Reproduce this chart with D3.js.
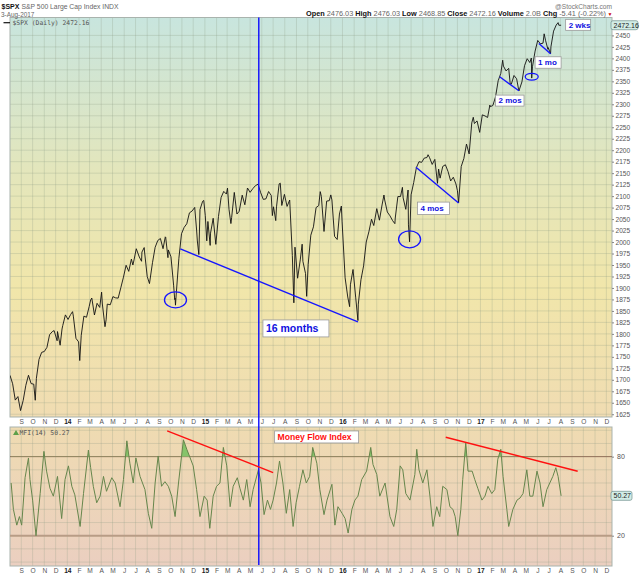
<!DOCTYPE html>
<html>
<head>
<meta charset="utf-8">
<script src="https://d3js.org/d3.v7.min.js"></script>
<style>
  body { margin: 0; background: #fff; }
  svg { font-family: "Liberation Sans", Arial, sans-serif; }
  .axis text { fill: #555; font-size: 6.6px; }
  .axis .yr { fill: #222; font-weight: bold; }
  .axis line { stroke: #888; }
  .grid line { stroke: #8c9c84; stroke-opacity: 0.33; stroke-width: 0.8px; }
  .note rect { fill: #fff; stroke: #9a9a9a; stroke-width: 0.8px; }
  .note text { fill: #1010e0; font-weight: bold; }
</style>
</head>
<body>
<svg id="chart" width="640" height="576"></svg>
<script>
// ---- data ----
var spxDaily = [
  ["2013-08-02",1709.67],["2013-08-09",1691.42],["2013-08-16",1655.83],["2013-08-23",1663.50],["2013-08-30",1632.97],
  ["2013-09-06",1655.17],["2013-09-13",1687.99],["2013-09-20",1709.91],["2013-09-27",1691.75],["2013-10-04",1690.50],
  ["2013-10-08",1655.45],["2013-10-11",1703.20],["2013-10-18",1744.50],["2013-10-25",1759.77],["2013-11-01",1761.64],
  ["2013-11-08",1770.61],["2013-11-15",1798.18],["2013-11-22",1804.76],["2013-11-27",1807.23],["2013-12-05",1785.03],
  ["2013-12-06",1805.09],["2013-12-13",1775.32],["2013-12-18",1810.65],["2013-12-20",1818.32],["2013-12-27",1841.40],
  ["2014-01-03",1831.37],["2014-01-10",1842.37],["2014-01-15",1848.38],["2014-01-17",1838.70],["2014-01-24",1790.29],
  ["2014-01-31",1782.59],["2014-02-03",1741.89],["2014-02-07",1797.02],["2014-02-14",1838.63],["2014-02-21",1836.25],
  ["2014-02-28",1859.45],["2014-03-04",1873.91],["2014-03-07",1878.04],["2014-03-14",1841.13],["2014-03-21",1866.52],
  ["2014-03-28",1857.62],["2014-04-02",1890.90],["2014-04-04",1865.09],["2014-04-11",1815.69],["2014-04-14",1830.61],
  ["2014-04-17",1864.85],["2014-04-25",1863.40],["2014-05-02",1881.14],["2014-05-09",1878.48],["2014-05-16",1877.86],
  ["2014-05-23",1900.53],["2014-05-30",1923.57],["2014-06-06",1949.44],["2014-06-13",1936.16],["2014-06-20",1962.87],
  ["2014-06-24",1949.98],["2014-06-27",1960.96],["2014-07-03",1985.44],["2014-07-11",1967.57],["2014-07-17",1958.12],
  ["2014-07-18",1978.22],["2014-07-24",1987.98],["2014-07-25",1978.34],["2014-08-01",1925.15],["2014-08-07",1909.57],
  ["2014-08-15",1955.06],["2014-08-22",1988.40],["2014-08-29",2003.37],["2014-09-05",2007.71],["2014-09-12",1985.54],
  ["2014-09-18",2011.36],["2014-09-19",2010.40],["2014-09-25",1965.99],["2014-09-26",1982.85],["2014-10-03",1967.90],
  ["2014-10-10",1906.13],["2014-10-13",1874.74],["2014-10-14",1877.70],["2014-10-15",1862.49],["2014-10-17",1886.76],
  ["2014-10-24",1964.58],["2014-10-31",2018.05],["2014-11-07",2031.92],["2014-11-14",2039.82],["2014-11-21",2063.50],
  ["2014-11-28",2067.56],["2014-12-05",2075.37],["2014-12-10",2026.14],["2014-12-12",2002.33],["2014-12-16",1972.74],
  ["2014-12-19",2070.65],["2014-12-26",2088.77],["2014-12-29",2090.57],["2015-01-02",2058.20],["2015-01-06",2002.61],
  ["2015-01-09",2044.81],["2015-01-15",1992.67],["2015-01-16",2019.42],["2015-01-23",2051.82],["2015-01-30",1994.99],
  ["2015-02-06",2055.47],["2015-02-13",2096.99],["2015-02-20",2110.30],["2015-02-27",2104.50],["2015-03-02",2117.39],
  ["2015-03-06",2071.26],["2015-03-11",2040.24],["2015-03-13",2053.40],["2015-03-20",2108.10],["2015-03-27",2061.02],
  ["2015-04-02",2066.96],["2015-04-10",2102.06],["2015-04-17",2081.18],["2015-04-24",2117.69],["2015-05-01",2108.29],
  ["2015-05-08",2116.10],["2015-05-15",2122.73],["2015-05-22",2126.06],["2015-05-29",2107.39],["2015-06-05",2092.83],
  ["2015-06-12",2094.11],["2015-06-19",2109.99],["2015-06-26",2101.49],["2015-06-29",2057.64],["2015-07-02",2076.78],
  ["2015-07-08",2046.68],["2015-07-10",2076.62],["2015-07-17",2126.64],["2015-07-20",2128.28],["2015-07-24",2079.65],
  ["2015-07-31",2103.84],["2015-08-07",2077.57],["2015-08-14",2091.54],["2015-08-21",1970.89],["2015-08-24",1893.21],
  ["2015-08-25",1867.61],["2015-08-28",1988.87],["2015-09-04",1921.22],["2015-09-11",1961.05],["2015-09-16",1995.31],
  ["2015-09-18",1958.03],["2015-09-25",1931.34],["2015-09-28",1881.77],["2015-10-02",1951.36],["2015-10-09",2014.89],
  ["2015-10-16",2033.11],["2015-10-23",2075.15],["2015-10-30",2079.36],["2015-11-03",2109.79],["2015-11-06",2099.20],
  ["2015-11-13",2023.04],["2015-11-20",2089.17],["2015-11-27",2090.11],["2015-12-01",2102.63],["2015-12-04",2091.69],
  ["2015-12-11",2012.37],["2015-12-18",2005.55],["2015-12-24",2060.99],["2015-12-29",2078.36],["2015-12-31",2043.94],
  ["2016-01-08",1922.03],["2016-01-15",1880.33],["2016-01-20",1859.33],["2016-01-22",1906.90],["2016-01-29",1940.24],
  ["2016-02-05",1880.05],["2016-02-11",1829.08],["2016-02-12",1864.78],["2016-02-19",1917.78],["2016-02-26",1948.05],
  ["2016-03-04",1999.99],["2016-03-11",2022.19],["2016-03-18",2049.58],["2016-03-24",2035.94],["2016-04-01",2072.78],
  ["2016-04-08",2047.60],["2016-04-15",2080.73],["2016-04-20",2102.40],["2016-04-22",2091.58],["2016-04-29",2065.30],
  ["2016-05-06",2057.14],["2016-05-13",2046.61],["2016-05-19",2040.04],["2016-05-20",2052.32],["2016-05-27",2099.06],
  ["2016-06-03",2099.13],["2016-06-08",2119.12],["2016-06-10",2096.07],["2016-06-17",2071.22],["2016-06-23",2113.32],
  ["2016-06-24",2037.41],["2016-06-27",2000.54],["2016-07-01",2102.95],["2016-07-08",2129.90],["2016-07-15",2161.74],
  ["2016-07-22",2175.03],["2016-07-29",2173.60],["2016-08-05",2182.87],["2016-08-12",2184.05],["2016-08-15",2190.15],
  ["2016-08-19",2183.87],["2016-08-26",2169.04],["2016-09-02",2179.98],["2016-09-09",2127.81],["2016-09-12",2159.04],
  ["2016-09-16",2139.16],["2016-09-23",2164.69],["2016-09-30",2168.27],["2016-10-07",2153.74],["2016-10-14",2132.98],
  ["2016-10-21",2141.16],["2016-10-28",2126.41],["2016-11-01",2111.72],["2016-11-04",2085.18],["2016-11-11",2164.45],
  ["2016-11-18",2181.90],["2016-11-25",2213.35],["2016-12-02",2191.95],["2016-12-09",2259.53],["2016-12-13",2271.72],
  ["2016-12-16",2258.07],["2016-12-23",2263.79],["2016-12-30",2238.83],["2017-01-06",2276.98],["2017-01-13",2274.64],
  ["2017-01-20",2271.31],["2017-01-26",2298.37],["2017-01-27",2294.69],["2017-02-03",2297.42],["2017-02-10",2316.10],
  ["2017-02-17",2351.16],["2017-02-24",2367.34],["2017-03-01",2395.96],["2017-03-03",2383.12],["2017-03-10",2372.60],
  ["2017-03-17",2378.25],["2017-03-21",2344.02],["2017-03-24",2343.98],["2017-03-31",2362.72],["2017-04-07",2355.54],
  ["2017-04-13",2328.95],["2017-04-21",2348.69],["2017-04-28",2384.20],["2017-05-05",2399.29],["2017-05-12",2390.90],
  ["2017-05-16",2400.67],["2017-05-17",2357.03],["2017-05-19",2381.73],["2017-05-26",2415.82],["2017-06-02",2439.07],
  ["2017-06-09",2431.77],["2017-06-16",2433.15],["2017-06-19",2453.46],["2017-06-23",2438.30],["2017-06-29",2419.70],
  ["2017-06-30",2423.41],["2017-07-06",2409.75],["2017-07-07",2425.18],["2017-07-14",2459.27],["2017-07-21",2472.54],
  ["2017-07-26",2477.83],["2017-07-28",2472.10],["2017-08-03",2472.16]
];

var mfi14 = [
  ["2013-08-05",60],["2013-08-11",40],["2013-08-20",28],["2013-08-27",34.5],["2013-09-02",28],["2013-09-11",64],
  ["2013-09-20",79],["2013-09-24",62.6],["2013-10-01",47],["2013-10-10",20],["2013-10-21",52],["2013-10-31",84],
  ["2013-11-07",69],["2013-11-16",56],["2013-11-25",50],["2013-12-06",65],["2013-12-17",33],["2013-12-26",62.6],
  ["2014-01-04",73],["2014-01-13",57.5],["2014-01-21",51],["2014-02-04",27],["2014-02-13",52],["2014-02-26",85],
  ["2014-03-04",71.6],["2014-03-11",57.5],["2014-03-20",45],["2014-03-29",50],["2014-04-07",65],["2014-04-15",53.7],
  ["2014-04-29",64],["2014-05-08",60],["2014-05-21",42],["2014-05-30",62.6],["2014-06-08",92],["2014-06-16",75],
  ["2014-06-25",60],["2014-07-02",79],["2014-07-13",65],["2014-07-26",55],["2014-08-04",37],["2014-08-13",25.6],
  ["2014-08-22",60],["2014-08-30",80.5],["2014-09-08",57.5],["2014-09-17",61],["2014-09-26",57.5],["2014-10-05",50],
  ["2014-10-14",34.5],["2014-10-23",60],["2014-11-05",92.8],["2014-11-14",85.6],["2014-11-23",79],["2014-12-01",73],
  ["2014-12-10",55],["2014-12-19",34.5],["2014-12-30",50],["2015-01-07",47],["2015-01-14",25.6],["2015-01-23",50],
  ["2015-02-01",57.5],["2015-02-10",60],["2015-02-19",87],["2015-02-28",73],["2015-03-09",42],["2015-03-17",57.5],
  ["2015-03-28",64],["2015-04-04",56],["2015-04-13",47],["2015-04-22",62.6],["2015-05-01",42],["2015-05-09",55],
  ["2015-05-23",70],["2015-05-30",60],["2015-06-07",36],["2015-06-16",47],["2015-06-24",40],["2015-07-01",47],
  ["2015-07-10",60],["2015-07-18",76.7],["2015-07-27",60],["2015-08-05",37],["2015-08-14",55],["2015-08-23",27],
  ["2015-08-31",45],["2015-09-09",57.5],["2015-09-18",70],["2015-09-27",60],["2015-10-06",65],["2015-10-14",87],
  ["2015-10-25",75],["2015-11-02",55],["2015-11-13",36],["2015-11-21",47],["2015-12-04",59],["2015-12-12",28],
  ["2015-12-20",42],["2015-12-31",37],["2016-01-08",33],["2016-01-16",22],["2016-01-26",40],["2016-02-03",47],
  ["2016-02-11",50],["2016-02-21",62.6],["2016-03-05",69],["2016-03-16",87],["2016-03-22",74],["2016-04-01",66.5],
  ["2016-04-09",50],["2016-04-23",60],["2016-05-06",34.5],["2016-05-16",27],["2016-05-24",40],["2016-06-02",73],
  ["2016-06-09",70],["2016-06-17",52],["2016-06-28",47],["2016-07-11",66.5],["2016-07-16",85.6],["2016-07-22",70],
  ["2016-08-01",60],["2016-08-12",70],["2016-08-20",50],["2016-08-28",27],["2016-09-07",42],["2016-09-15",34.5],
  ["2016-09-23",57.5],["2016-10-04",55],["2016-10-12",42],["2016-10-20",40],["2016-10-26",34.5],["2016-11-02",20],
  ["2016-11-10",40],["2016-11-15",62.6],["2016-11-23",90.7],["2016-11-29",69],["2016-12-10",69],["2016-12-17",62.6],
  ["2016-12-25",56],["2017-01-05",47],["2017-01-13",50],["2017-01-21",57.5],["2017-01-31",52],["2017-02-08",55],
  ["2017-02-16",78],["2017-02-24",85.6],["2017-03-02",65],["2017-03-12",40],["2017-03-17",27],["2017-03-28",40],
  ["2017-04-08",47],["2017-04-16",48.6],["2017-04-24",52],["2017-05-04",70],["2017-05-12",50],["2017-05-20",50],
  ["2017-05-31",69],["2017-06-08",60],["2017-06-16",42],["2017-06-26",55],["2017-07-04",60],["2017-07-12",65],
  ["2017-07-20",71.6],["2017-07-26",65],["2017-08-03",50.27]
];

var priceTicks = [1625,1650,1675,1700,1725,1750,1775,1800,1825,1850,1875,1900,1925,1950,1975,2000,2025,2050,
  2075,2100,2125,2150,2175,2200,2225,2250,2275,2300,2325,2350,2375,2400,2425,2450];
var mfiTicks = [20, 80];
var mfiGrid = [0, 10, 30, 40, 50, 60, 70, 90, 100];
var monthLabels = ["S","O","N","D","14","F","M","A","M","J","J","A","S","O","N","D",
  "15","F","M","A","M","J","J","A","S","O","N","D","16","F","M","A","M","J","J","A","S","O","N","D",
  "17","F","M","A","M","J","J","A","S","O","N","D"];

// annotations (in date / price units)
var blueTrends = [
  [["2014-10-28",1985],["2016-02-11",1826]],
  [["2016-07-14",2163],["2016-11-04",2085]],
  [["2017-02-21",2360],["2017-04-13",2329.5]],
  [["2017-06-05",2432.6],["2017-07-06",2410]]
];
var blueCircles = [["2014-10-15",1874],["2016-06-27",2006],["2017-05-17",2360]];
var noteTexts = ["16 months","4 mos","2 mos","1 mo","2 wks"];
var noteAnchors = [["2015-06-04",1830.4],["2016-07-18",2087],["2017-02-10",2320],["2017-05-26",2403.5],["2017-08-15",2485]];
var redTrends = [
  [["2014-09-23",99.5],["2015-07-01",67.9]],
  [["2016-10-01",94.7],["2017-09-16",68.9]]
];
var mfiNote = ["Money Flow Index", "2015-07-05", 99.5];
var markerDate = "2015-05-24";
var lastClose = 2472.16, lastMfi = 50.27;

// ---- layout ----
var parseDate = d3.timeParse("%Y-%m-%d");
var left = 10, right = 612;
var mainTop = 17.5, mainBottom = 417, mfiTop = 427, mfiBottom = 566;

var x = d3.scaleTime()
  .domain([new Date(2013, 7, 2), new Date(2017, 11, 16)])
  .range([left, right]);
var y = d3.scaleLinear().domain([1619, 2489]).range([mainBottom, mainTop]);
var yM = d3.scaleLinear().domain([-3, 102.5]).range([mfiBottom, mfiTop]);

var monthDates = d3.timeMonth.range(new Date(2013, 8, 1), new Date(2018, 0, 1));

var svg = d3.select("#chart");
var defs = svg.append("defs");

function gradient(id, stops) {
  var lg = defs.append("linearGradient").attr("id", id)
    .attr("x1", 0).attr("y1", 0).attr("x2", 0).attr("y2", 1);
  stops.forEach(function(s) {
    lg.append("stop").attr("offset", s[0]).attr("stop-color", s[1]);
  });
}
gradient("bgMain", [[0, "#c8e5de"], [0.38, "#e3e6bc"], [0.68, "#f1e6aa"], [1, "#f0dcb2"]]);
gradient("bgMfi", [[0, "#efdbb1"], [1, "#ebcfc0"]]);

defs.append("clipPath").attr("id", "clipMain").append("rect")
  .attr("x", left).attr("y", mainTop).attr("width", right - left).attr("height", mainBottom - mainTop);
defs.append("clipPath").attr("id", "clipOver").append("rect")
  .attr("x", left).attr("y", mfiTop).attr("width", right - left).attr("height", yM(80) - mfiTop);

// panels
svg.append("rect").attr("x", left).attr("y", mainTop)
  .attr("width", right - left).attr("height", mainBottom - mainTop)
  .attr("fill", "url(#bgMain)");
svg.append("rect").attr("x", left).attr("y", mfiTop)
  .attr("width", right - left).attr("height", mfiBottom - mfiTop)
  .attr("fill", "url(#bgMfi)");

// grids
var grid = svg.append("g").attr("class", "grid");
grid.selectAll(".vm").data(monthDates).enter().append("line")
  .attr("x1", d => x(d)).attr("x2", d => x(d)).attr("y1", mainTop).attr("y2", mainBottom);
grid.selectAll(".vf").data(monthDates).enter().append("line")
  .attr("x1", d => x(d)).attr("x2", d => x(d)).attr("y1", mfiTop).attr("y2", mfiBottom);
grid.selectAll(".hm").data(priceTicks).enter().append("line")
  .attr("x1", left).attr("x2", right).attr("y1", d => y(d)).attr("y2", d => y(d));
grid.selectAll(".hf").data(mfiGrid).enter().append("line")
  .attr("x1", left).attr("x2", right).attr("y1", d => yM(d)).attr("y2", d => yM(d));

// panel borders
[[mainTop, mainBottom], [mfiTop, mfiBottom]].forEach(function(p) {
  svg.append("rect").attr("x", left).attr("y", p[0])
    .attr("width", right - left).attr("height", p[1] - p[0])
    .attr("fill", "none").attr("stroke", "#a9b3ad").attr("stroke-width", 1);
});

// price line
var priceData = spxDaily.map(d => ({date: parseDate(d[0]), v: d[1]}));
var line = d3.line().x(d => x(d.date)).y(d => y(d.v));
svg.append("path").datum(priceData)
  .attr("clip-path", "url(#clipMain)")
  .attr("d", line)
  .attr("fill", "none").attr("stroke", "#111").attr("stroke-width", 0.9)
  .attr("stroke-linejoin", "round");

// MFI
var mfiData = mfi14.map(d => ({date: parseDate(d[0]), v: d[1]}));
svg.append("line").attr("x1", left).attr("x2", right)
  .attr("y1", yM(80)).attr("y2", yM(80)).attr("stroke", "#8d6d55").attr("stroke-width", 1);
svg.append("line").attr("x1", left).attr("x2", right)
  .attr("y1", yM(20)).attr("y2", yM(20)).attr("stroke", "#b89c86").attr("stroke-width", 2);

svg.append("path").datum(mfiData)
  .attr("clip-path", "url(#clipOver)")
  .attr("d", d3.area().x(d => x(d.date)).y0(yM(80)).y1(d => yM(d.v)))
  .attr("fill", "#86c46a");
svg.append("path").datum(mfiData)
  .attr("d", d3.line().x(d => x(d.date)).y(d => yM(d.v)))
  .attr("fill", "none").attr("stroke", "#66864c").attr("stroke-width", 1)
  .attr("stroke-linejoin", "round");

// axes: months between panels and under the MFI
function monthAxis(ty) {
  var ax = svg.append("g").attr("class", "axis")
    .attr("transform", "translate(0," + ty + ")")
    .call(d3.axisBottom(x).tickValues(monthDates)
      .tickFormat((d, i) => monthLabels[i]).tickSize(0).tickPadding(2));
  ax.select(".domain").remove();
  ax.selectAll("text").classed("yr", (d, i) => monthLabels[i].length > 1);
}
monthAxis(mainBottom);
monthAxis(mfiBottom);

var yAx = svg.append("g").attr("class", "axis")
  .attr("transform", "translate(" + right + ",0)")
  .call(d3.axisRight(y).tickValues(priceTicks).tickFormat(d3.format("d"))
    .tickSize(2).tickPadding(1.5));
yAx.select(".domain").remove();

var mAx = svg.append("g").attr("class", "axis")
  .attr("transform", "translate(" + right + ",0)")
  .call(d3.axisRight(yM).tickValues(mfiTicks).tickSize(2).tickPadding(3));
mAx.select(".domain").remove();
mAx.selectAll("text").style("font-size", "7px");

// last value tags on the right
function tag(yy, txt, w) {
  svg.append("rect").attr("x", right - 1).attr("y", yy - 4.5).attr("width", w).attr("height", 9)
    .attr("rx", 2).attr("fill", "#d2ece6").attr("stroke", "#6f8f8c").attr("stroke-width", 0.7);
  svg.append("text").attr("x", right + 1.5).attr("y", yy + 2.5)
    .style("font-size", "7px").style("fill", "#222").text(txt);
}
tag(y(lastClose), lastClose.toFixed(2), 27);
tag(yM(lastMfi), lastMfi.toFixed(2), 21);

// vertical blue marker through both panels
svg.append("line")
  .attr("x1", x(parseDate(markerDate))).attr("x2", x(parseDate(markerDate)))
  .attr("y1", mainTop).attr("y2", mfiBottom - 1)
  .attr("stroke", "#0a0aff").attr("stroke-width", 1.4);

// blue trend lines and circles
svg.selectAll(".btrend").data(blueTrends).enter().append("line")
  .attr("x1", d => x(parseDate(d[0][0]))).attr("y1", d => y(d[0][1]))
  .attr("x2", d => x(parseDate(d[1][0]))).attr("y2", d => y(d[1][1]))
  .attr("stroke", "#1515ff").attr("stroke-width", 1.4);

var circleSize = [[11, 8], [11, 8.5], [6.5, 3.3]];
svg.selectAll(".bcirc").data(blueCircles).enter().append("ellipse")
  .attr("cx", d => x(parseDate(d[0]))).attr("cy", d => y(d[1]))
  .attr("rx", (d, i) => circleSize[i][0]).attr("ry", (d, i) => circleSize[i][1])
  .attr("fill", "none").attr("stroke", "#1515ff").attr("stroke-width", 1.3);

// note boxes
var noteSize = [[66, 17, 10.5], [32, 12.5, 8], [28.5, 11, 8], [26, 11.5, 8], [25, 11, 8]];
var notes = svg.selectAll(".note").data(noteTexts).enter().append("g")
  .attr("class", "note")
  .attr("transform", (d, i) => "translate(" + x(parseDate(noteAnchors[i][0])) + "," + y(noteAnchors[i][1]) + ")");
notes.append("rect")
  .attr("width", (d, i) => noteSize[i][0]).attr("height", (d, i) => noteSize[i][1]);
notes.append("text")
  .attr("x", 3).attr("y", (d, i) => noteSize[i][1] / 2 + noteSize[i][2] * 0.36)
  .style("font-size", (d, i) => noteSize[i][2] + "px")
  .text(d => d);

// red trend lines in MFI
svg.selectAll(".rtrend").data(redTrends).enter().append("line")
  .attr("x1", d => x(parseDate(d[0][0]))).attr("y1", d => yM(d[0][1]))
  .attr("x2", d => x(parseDate(d[1][0]))).attr("y2", d => yM(d[1][1]))
  .attr("stroke", "#ff1010").attr("stroke-width", 1.4);

var mn = svg.append("g").attr("class", "note")
  .attr("transform", "translate(" + x(parseDate(mfiNote[1])) + "," + yM(mfiNote[2]) + ")");
mn.append("rect").attr("width", 84).attr("height", 12);
mn.append("text").attr("x", 3).attr("y", 9).style("font-size", "8.6px")
  .style("fill", "#ff1010").text(mfiNote[0]);

// ---- header texts ----
svg.append("text").attr("x", 1.5).attr("y", 8.8)
  .style("font-size", "7px").style("font-weight", "bold").style("fill", "#111").text("$SPX");
svg.append("text").attr("x", 21.5).attr("y", 8.8)
  .style("font-size", "6.8px").style("fill", "#666").text("S&P 500 Large Cap Index INDX");
svg.append("text").attr("x", 1).attr("y", 17)
  .style("font-size", "6.4px").style("fill", "#666").text("3-Aug-2017");
svg.append("text").attr("x", 612).attr("y", 8.5).attr("text-anchor", "end")
  .style("font-size", "6.6px").style("fill", "#777").text("@StockCharts.com");

var quote = [["Open", "2476.03"], ["High", "2476.03"], ["Low", "2468.85"], ["Close", "2472.16"],
  ["Volume", "2.0B"], ["Chg", "-5.41 (-0.22%)"]];
var qt = svg.append("text").attr("x", 306).attr("y", 16.3)
  .attr("textLength", 300).attr("lengthAdjust", "spacingAndGlyphs")
  .style("font-size", "7px");
quote.forEach(function(q, i) {
  qt.append("tspan").style("font-weight", "bold").style("fill", "#111").text((i ? " " : "") + q[0] + " ");
  qt.append("tspan").style("fill", "#666").text(q[1]);
});
svg.append("text").attr("x", 607.5).attr("y", 16.3)
  .style("font-size", "5px").style("fill", "#c00").text("\u25BC");

// legends inside the panels
svg.append("line").attr("x1", 3.5).attr("x2", 10).attr("y1", 22.7).attr("y2", 22.7)
  .attr("stroke", "#111").attr("stroke-width", 1.2);
svg.append("text").attr("x", 12.5).attr("y", 25)
  .style("font-family", "'DejaVu Sans Mono', monospace").style("font-size", "6.4px")
  .style("fill", "#555").text("$SPX (Daily) 2472.16");
svg.append("path").attr("d", "M13,435 L16,430 L19,435 Z").attr("fill", "#5ea04a");
svg.append("text").attr("x", 19.5).attr("y", 435)
  .style("font-family", "'DejaVu Sans Mono', monospace").style("font-size", "6.4px")
  .style("fill", "#555").text("MFI(14) 50.27");
</script>
</body>
</html>
